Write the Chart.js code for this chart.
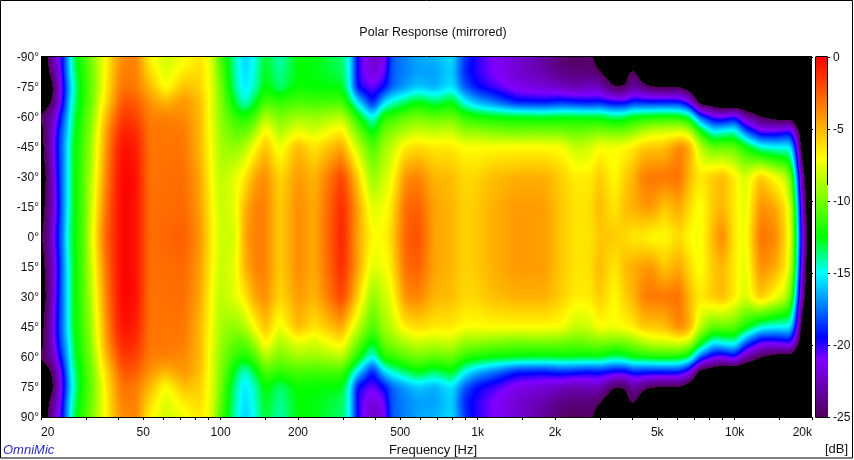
<!DOCTYPE html>
<html>
<head>
<meta charset="utf-8">
<title>Polar Response (mirrored)</title>
<script src="https://cdn.jsdelivr.net/npm/chart.js@4"></script>
<style>
  html, body { margin: 0; padding: 0; background: #fff; }
  canvas { display: block; }
</style>
</head>
<body>
<canvas id="polarChart" width="854" height="460"></canvas>
<script>
// Frequencies (Hz) of each column
const freqs = [20,21,22,23,24,25,26,27,29,32,34,36,39,42,47,53,61,72,83,92,100,114,124,136,149,170,200,232,296,318,342,390,435,460,522,585,680,795,890,1000,1150,1420,1820,2120,2400,2730,2970,3420,3790,4030,4380,4700,5350,6100,6650,7360,8250,8950,10000,11000,12600,14300,15600,16500,17100,17800,18600,20000];

// Level in dB per measured angle (the other side is the mirror image)
const angle0 = [-25.5,-24,-22.5,-19.5,-18,-15.5,-13.5,-12.5,-11,-7,-4.5,-2.5,-1,0,-0.5,-3,-2.8,-2.5,-4,-6.5,-8.2,-8,-4.5,-3.5,-3.5,-5.7,-3.8,-4.7,-0.8,-2.5,-4.5,-7,-6.8,-6,-2.7,-2,-4.5,-5,-5.8,-5.5,-4.8,-4.2,-4.3,-5.5,-6.3,-6.3,-5.5,-5.5,-6,-6.5,-6.5,-7,-7,-6,-7,-7.3,-5,-3.5,-6.5,-7.5,-3,-3.5,-5.5,-7.5,-10.5,-17,-23,-28];
const angle15 = [-26,-24.5,-23,-20.5,-18,-16,-14,-12.5,-11,-7.5,-5,-3,-1,0,-0.5,-3,-3,-2.8,-4.3,-6.7,-8.3,-7.5,-5,-3.5,-3.5,-5.7,-3.8,-4.7,-1,-2.5,-4.5,-7.8,-7.2,-6.5,-3,-2.5,-4.5,-5,-5.8,-5.5,-4.8,-4.2,-4.3,-5.5,-6.3,-6.2,-5,-6.5,-5,-4.8,-4.3,-4,-5.5,-4.5,-6,-7.3,-5.5,-5,-6.5,-7.8,-3.8,-4.5,-6,-8,-11,-18,-24,-28];
const angle30 = [-26,-25,-23,-20,-18,-16,-14,-12.5,-11,-8,-5.5,-3.5,-1.2,0,-0.4,-3.2,-3,-3,-4.5,-7,-8.5,-7.5,-6.5,-4.5,-3.8,-6,-4.2,-5,-1.7,-3.5,-5.8,-9.5,-8,-7.5,-4,-3.5,-5,-5.2,-6,-5.8,-5.2,-4.8,-4.8,-5.7,-6.5,-6.5,-5.5,-7,-5.5,-5,-3.5,-3.2,-3.2,-3,-5,-6.5,-5.5,-5,-6.5,-8,-5.3,-7,-8,-10,-13.5,-20,-25,-28];
const angle45 = [-26,-24,-22.5,-19.5,-18,-16,-14,-12.5,-11.2,-8.5,-6,-4,-1.5,-0.3,-0.8,-3.2,-3.2,-3.2,-5,-7.2,-9,-9.5,-8.7,-7,-5.2,-7.5,-5,-6.3,-4.5,-6.5,-8.3,-11,-9,-8.5,-6.5,-6,-6.4,-6.4,-7,-7,-6.9,-6.9,-6.9,-7,-8.3,-8,-7,-7.2,-6.8,-6.5,-5.5,-5.5,-5.3,-3.5,-4.5,-8.5,-10.5,-10.3,-10.5,-12,-14.5,-15,-15,-15,-18,-23,-28,-28];
const angle52 = [-26,-24,-22.5,-20,-18,-16.5,-14.5,-12.8,-11.4,-8.8,-6.3,-4.3,-2,-0.8,-1.2,-3.2,-3.2,-3.3,-5,-7.3,-9.2,-10.5,-10.5,-9,-6.5,-8.8,-7.3,-7.9,-6.3,-8.3,-10,-12.8,-10,-9.7,-8.7,-8,-8.3,-8,-9.3,-9.3,-9.7,-10,-9.8,-10,-10.3,-10,-9.7,-10,-9.8,-9.3,-8.7,-8,-7.8,-7.5,-8,-11.8,-15,-14.5,-14,-17.5,-20.5,-20.5,-20,-19.6,-22,-25,-28,-28];
const angle60 = [-25,-24,-23,-21,-19,-17,-15,-13,-11.6,-9.3,-6.8,-5,-2.8,-1.4,-1.8,-3.5,-3.5,-3.8,-5,-7.5,-9.5,-11.5,-12,-11,-8.5,-10,-9,-9.3,-8.5,-10,-12,-15.2,-11.5,-11.5,-10.5,-10,-10.5,-10.2,-11.5,-12,-12.3,-12.5,-12.7,-12.5,-12.5,-12.6,-12.5,-13.5,-13,-12.3,-12.2,-12,-11.8,-12,-13,-18,-20.5,-21,-19.7,-23,-25,-26,-26.5,-26,-27,-28,-28,-28];
const angle67 = [-26,-26,-25,-23,-20.5,-18,-15.5,-13.7,-12,-9.7,-7.5,-6,-3.8,-2.2,-2.5,-4,-5,-4,-5.2,-7.5,-9.7,-13,-14.8,-13,-11,-11.5,-11,-11.2,-11,-13,-15.5,-19.5,-15.5,-14.7,-13.5,-12.5,-13.5,-12.5,-15,-16.5,-17.5,-19.3,-19.5,-19,-19.3,-19.6,-19.3,-20,-20,-19,-19.2,-19.3,-19.2,-19.3,-21,-26.5,-27,-28,-28,-28,-28,-28,-28,-28,-28,-28,-28,-28];
const angle75 = [-28,-28,-25.5,-23.5,-21,-18.5,-16,-14,-12,-10,-8,-6.5,-4.3,-3,-3.4,-5,-7.2,-5.2,-5.7,-7.5,-10,-14,-15.5,-14.4,-12.3,-13.7,-12.3,-12.5,-12.6,-15,-19.8,-20.8,-19.5,-18,-16.8,-16,-16.5,-15.4,-18,-19.5,-20.3,-21.5,-22,-22.5,-23,-22.5,-22.5,-25.2,-25,-23,-24.3,-25,-25.4,-25.2,-26.5,-28,-28,-28,-28,-28,-28,-28,-28,-28,-28,-28,-28,-28];
const angle82 = [-28,-26,-24,-22.5,-20.5,-17.5,-15.5,-13.5,-11.8,-9.8,-8,-6.7,-4.5,-3.4,-3.5,-6,-7.8,-6.5,-6,-7.5,-10.5,-14.2,-15.7,-14.6,-12.6,-14,-12.5,-12.6,-13.3,-15,-20,-22,-20.8,-18,-17.2,-16.7,-16.7,-15.7,-19,-20,-21,-22,-23,-24,-24.2,-24.2,-24.8,-27,-25.5,-24.5,-26.5,-28,-28,-28,-28,-28,-28,-28,-28,-28,-28,-28,-28,-28,-28,-28,-28,-28];
const angle90 = [-28,-25.5,-23,-22,-20,-17.5,-15.2,-13,-11.5,-9.5,-8,-6.8,-4.8,-3.7,-3.6,-6.8,-8,-7.3,-6.3,-7.8,-11,-14.3,-16,-14.8,-12.8,-14.3,-12.5,-12.6,-13.5,-15,-20,-22.5,-21.5,-18,-17.2,-16.5,-16.3,-15.5,-18.5,-20,-21,-22,-23.5,-24.5,-25,-24.5,-26,-28,-28,-26.5,-28,-28,-28,-28,-28,-28,-28,-28,-28,-28,-28,-28,-28,-28,-28,-28,-28,-28];

const angles = [0, 15, 30, 45, 52.5, 60, 67.5, 75, 82.5, 90];
const levels = [angle0, angle15, angle30, angle45, angle52, angle60, angle67, angle75, angle82, angle90];

const xTickValues = [20, 50, 100, 200, 500, 1000, 2000, 5000, 10000, 20000];
const xTickLabels = ['20', '50', '100', '200', '500', '1k', '2k', '5k', '10k', '20k'];

// Colour scale as shown on the bar at the right
const stopDb = [0, -3.5, -7, -12.5, -15, -19.5, -21, -25];
const stopRgb = [[255,0,0],[255,128,0],[255,255,0],[0,255,0],[0,255,255],[0,0,255],[128,0,255],[80,0,90]];

const FONT = '"Liberation Sans", Arial, sans-serif';

function colorFor(db) {
  if (db < -25) return [0, 0, 0];
  if (db >= 0) return stopRgb[0];
  for (let i = 1; i < stopDb.length; i++) {
    if (db >= stopDb[i]) {
      const t = (db - stopDb[i - 1]) / (stopDb[i] - stopDb[i - 1]);
      return stopRgb[i].map((c, k) => stopRgb[i - 1][k] + (c - stopRgb[i - 1][k]) * t);
    }
  }
  return [0, 0, 0];
}

function findSpan(list, v) {
  let i = 0;
  while (i < list.length - 2 && list[i + 1] < v) i++;
  const t = (v - list[i]) / (list[i + 1] - list[i]);
  return [i, Math.min(1, Math.max(0, t))];
}

const logFreqs = freqs.map(f => Math.log(f));

function levelAt(freq, angle) {
  const [c, tc] = findSpan(logFreqs, Math.log(freq));
  const [r, tr] = findSpan(angles, Math.abs(angle));
  const low = levels[r][c] + (levels[r][c + 1] - levels[r][c]) * tc;
  const high = levels[r + 1][c] + (levels[r + 1][c + 1] - levels[r + 1][c]) * tc;
  return low + (high - low) * tr;
}

// box blur so the measured grid renders as a smooth surface, like the original
function smooth(field, w, h, rx, ry) {
  const out = new Float32Array(field.length);
  for (let y = 0; y < h; y++) {
    for (let x = 0; x < w; x++) {
      let sum = 0, n = 0;
      for (let d = -rx; d <= rx; d++) {
        const xx = Math.min(w - 1, Math.max(0, x + d));
        sum += field[y * w + xx]; n++;
      }
      out[y * w + x] = sum / n;
    }
  }
  const res = new Float32Array(field.length);
  for (let y = 0; y < h; y++) {
    for (let x = 0; x < w; x++) {
      let sum = 0, n = 0;
      for (let d = -ry; d <= ry; d++) {
        const yy = Math.min(h - 1, Math.max(0, y + d));
        sum += out[yy * w + x]; n++;
      }
      res[y * w + x] = sum / n;
    }
  }
  return res;
}

const heatmapPlugin = {
  id: 'heatmap',
  beforeDatasetsDraw(chart) {
    const { ctx, chartArea: area, scales } = chart;
    const w = Math.round(area.right - area.left);
    const h = Math.round(area.bottom - area.top);
    let field = new Float32Array(w * h);
    for (let y = 0; y < h; y++) {
      const angle = scales.y.getValueForPixel(area.top + y + 0.5);
      for (let x = 0; x < w; x++) {
        field[y * w + x] = levelAt(scales.x.getValueForPixel(area.left + x + 0.5), angle);
      }
    }
    field = smooth(smooth(field, w, h, 3, 4), w, h, 2, 3);
    const off = document.createElement('canvas');
    off.width = w;
    off.height = h;
    const octx = off.getContext('2d');
    const img = octx.createImageData(w, h);
    for (let i = 0; i < field.length; i++) {
      const c = colorFor(field[i]);
      img.data[i * 4] = c[0];
      img.data[i * 4 + 1] = c[1];
      img.data[i * 4 + 2] = c[2];
      img.data[i * 4 + 3] = 255;
    }
    octx.putImageData(img, 0, 0);
    ctx.drawImage(off, area.left, area.top, w, h);
  }
};

const framePlugin = {
  id: 'frame',
  afterDraw(chart) {
    const { ctx, chartArea: area, scales } = chart;
    const bar = scales.dB;
    ctx.save();

    // colour bar
    ctx.fillStyle = '#fff';
    ctx.fillRect(area.right + 1, bar.top - 1, 15, bar.bottom - bar.top + 2);
    for (let y = bar.top; y < bar.bottom; y++) {
      const c = colorFor(Math.max(-25, bar.getValueForPixel(y + 0.5)));
      ctx.fillStyle = `rgb(${c[0]},${c[1]},${c[2]})`;
      ctx.fillRect(816, y, 12, 1);
    }
    ctx.strokeStyle = '#000';
    ctx.lineWidth = 1;
    ctx.beginPath();
    ctx.moveTo(815.5, bar.top); ctx.lineTo(815.5, bar.bottom + 0.5); ctx.lineTo(828, bar.bottom + 0.5);
    ctx.moveTo(815.5, bar.top - 0.5); ctx.lineTo(827.5, bar.top - 0.5); ctx.lineTo(827.5, 185);
    // plot edges
    ctx.moveTo(area.left, area.top - 0.5); ctx.lineTo(area.right, area.top - 0.5);
    // outer frame
    ctx.rect(0.5, 0.5, 852, 457.5);
    ctx.stroke();

    // texts
    ctx.textBaseline = 'middle';
    ctx.fillStyle = '#111';
    ctx.font = '12.5px ' + FONT;
    ctx.textAlign = 'center';
    ctx.fillText('Polar Response (mirrored)', 433, 33);
    ctx.font = '13px ' + FONT;
    ctx.fillText('Frequency [Hz]', 433, 450);
    ctx.textAlign = 'right';
    ctx.font = '13px ' + FONT;
    ctx.fillText('[dB]', 848, 449);
    ctx.textAlign = 'left';
    ctx.font = 'italic 13px ' + FONT;
    ctx.fillStyle = '#2a2ac8';
    ctx.fillText('OmniMic', 3, 450);
    ctx.restore();
  }
};

const points = [];
angles.forEach((a, r) => {
  freqs.forEach((f, c) => {
    points.push({ x: f, y: a, v: levels[r][c] });
    if (a !== 0) points.push({ x: f, y: -a, v: levels[r][c] });
  });
});

new Chart(document.getElementById('polarChart'), {
  type: 'scatter',
  data: {
    datasets: [{ label: 'Polar Response (mirrored)', data: points, pointRadius: 0, pointHoverRadius: 0, showLine: false }]
  },
  options: {
    responsive: false,
    animation: false,
    layout: { padding: { top: 57, left: 0, right: 0, bottom: 0 } },
    plugins: { legend: { display: false }, tooltip: { enabled: false } },
    scales: {
      x: {
        type: 'logarithmic',
        min: 20,
        max: 20000,
        afterFit: s => { s.height = 43; },
        border: { display: true, color: '#000' },
        grid: { display: true, drawOnChartArea: false, drawTicks: true, tickLength: 3, color: '#000' },
        ticks: {
          autoSkip: false,
          maxRotation: 0,
          align: 'inner',
          padding: 5,
          color: '#111',
          font: { family: FONT, size: 12 },
          callback: value => {
            const i = xTickValues.indexOf(Math.round(value));
            return i >= 0 ? xTickLabels[i] : '';
          }
        }
      },
      y: {
        type: 'linear',
        position: 'left',
        reverse: true,
        min: -90,
        max: 90,
        afterFit: s => { s.width = 41; },
        border: { display: false },
        grid: { display: false, drawTicks: false },
        ticks: {
          stepSize: 15,
          padding: 2,
          labelOffset: 1,
          color: '#111',
          font: { family: FONT, size: 12 },
          callback: value => value + '°'
        }
      },
      dB: {
        type: 'linear',
        position: 'right',
        min: -25,
        max: 0,
        afterFit: s => { s.width = 42; },
        border: { display: false },
        grid: { display: true, drawOnChartArea: false, drawTicks: true, tickLength: 18, color: '#000' },
        ticks: {
          stepSize: 5,
          padding: 3,
          labelOffset: 1,
          color: '#111',
          font: { family: FONT, size: 12 }
        }
      }
    }
  },
  plugins: [heatmapPlugin, framePlugin]
});
</script>
</body>
</html>
